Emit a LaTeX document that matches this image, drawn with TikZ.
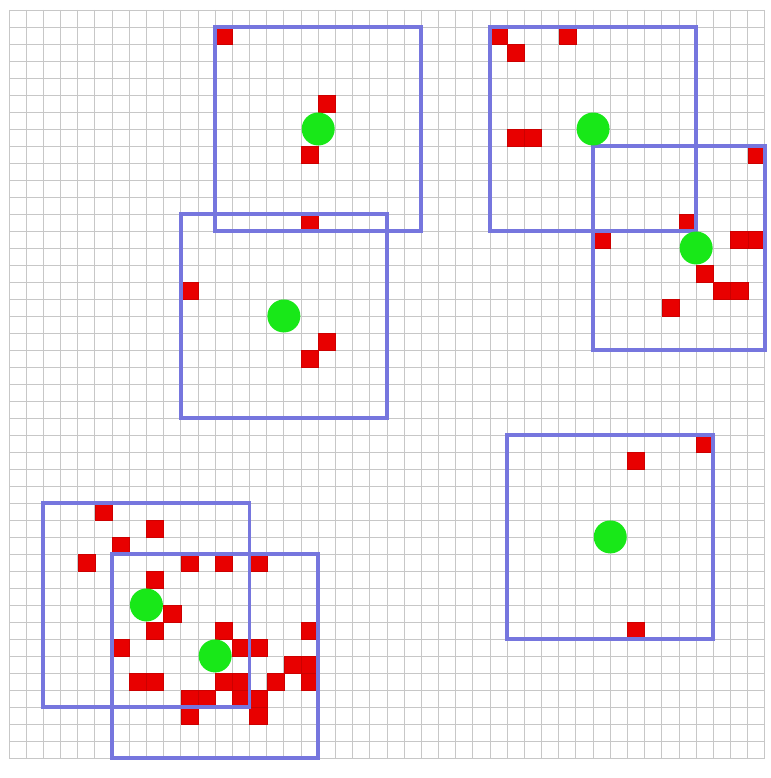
\documentclass[tikz,border=0pt]{standalone}
\usepackage{xcolor}
\usepackage{tikz}
\usetikzlibrary{positioning}
\definecolor{winblue}{RGB}{118,118,222}
\definecolor{hitred}{RGB}{232,0,0}
\definecolor{centgreen}{RGB}{24,232,24}
\tikzstyle{gridline} = [draw=black!22, line width=0.7pt]
\tikzstyle{window} = [draw=winblue, line width=3.3pt]
\tikzstyle{hit} = [fill=hitred, draw=red!80!black, line width=0.3pt]
\tikzstyle{centre} = [circle, fill=centgreen, minimum size=0.99cm, inner sep=0pt]

\begin{document}
\begin{tikzpicture}[x={(0.5154cm,0)}, y={(0,-0.51cm)}]
            \fill[white, use as bounding box] (-0.524,-0.588) rectangle (44.35,45.18);

            % the grid
            \foreach \i in {0,...,44} \draw[gridline] (\i,0) -- (\i,44);
            \foreach \i in {0,...,44} \draw[gridline] (0,\i) -- (44,\i);

            % hit cells
            \foreach \c/\r in {12/1, 18/5, 17/8, 17/12,
                               10/16, 18/19, 17/20,
                               28/1, 29/2, 32/1, 29/7, 30/7,
                               43/8, 39/12, 34/13, 42/13, 43/13, 40/15, 41/16, 42/16, 38/17,
                               36/26, 40/25, 36/36,
                               5/29, 8/30, 6/31, 4/32, 10/32, 12/32, 14/32, 8/33,
                               9/35, 8/36, 12/36, 17/36, 6/37, 13/37, 14/37,
                               16/38, 17/38, 7/39, 8/39, 12/39, 13/39, 15/39, 17/39,
                               10/40, 11/40, 13/40, 14/40, 10/41, 14/41}
                \path[hit] (\c,\r) rectangle +(1,1);

            % search windows
            \draw[window] (12,1) rectangle (24,13);
            \draw[window] (10,12) rectangle (22,24);
            \draw[window] (28,1) rectangle (40,13);
            \draw[window] (34,8) rectangle (44,20);
            \draw[window] (29,25) rectangle (41,37);
            \draw[window] (2,29) rectangle (14,41);
            \draw[window] (6,32) rectangle (18,44);

            % window centres
            \node (cen1) [centre] at (18,7) {};
            \node (cen2) [centre] at (16,18) {};
            \node (cen3) [centre] at (34,7) {};
            \node (cen4) [centre] at (40,14) {};
            \node (cen5) [centre] at (35,31) {};
            \node (cen6) [centre] at (8,35) {};
            \node (cen7) [centre] at (12,38) {};
        \end{tikzpicture}
\end{document}
